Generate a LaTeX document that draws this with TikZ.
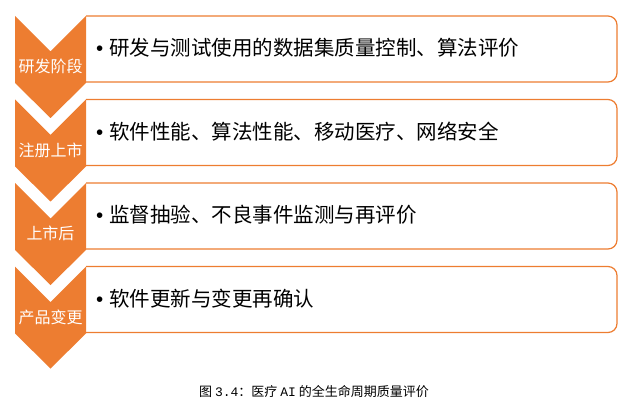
\documentclass[tikz,border=0pt]{standalone}
\usepackage{fontspec}
\newfontfamily\cjk{Noto Sans CJK SC}
\newfontfamily\capmono{Liberation Mono}
\newfontfamily\bulletfont{Liberation Sans}
\definecolor{stageorange}{HTML}{ED7D31}
\tikzset{
    stagetext/.style={font=\cjk\fontsize{16}{16}\selectfont, text=white, inner sep=0pt},
    desctext/.style={font=\cjk\fontsize{20.5}{21}\selectfont, anchor=west, inner sep=0pt},
    descbox/.style={draw=stageorange, line width=1.2pt, rounded corners=9pt}
}
\begin{document}
\begin{tikzpicture}[x=1pt, y=-1pt]
    \useasboundingbox (0,0) rectangle (629,406);

    % Stages: chevron on the left, rounded box on the right
    \foreach \i/\stage/\desc in {0/研发阶段/研发与测试使用的数据集质量控制、算法评价,
                                 1/注册上市/软件性能、算法性能、移动医疗、网络安全,
                                 2/上市后/监督抽验、不良事件监测与再评价,
                                 3/产品变更/软件更新与变更再确认} {
        \pgfmathsetmacro\rowtop{16+83.5*\i}
        \draw[descbox] (86,\rowtop) -- (617,\rowtop) -- (617,\rowtop+66) -- (86,\rowtop+66);
        \fill[stageorange] (15,\rowtop) -- (50.5,\rowtop+35.5) -- (86,\rowtop) -- (86,\rowtop+67)
            -- (50.5,\rowtop+102) -- (15,\rowtop+67) -- cycle;
        \node[stagetext] (stage\i) at (50.5,\rowtop+50.5) {\stage};
        \node[desctext] (desc\i) at (96,\rowtop+32) {{\bulletfont •}\hspace{6pt}\desc};
    }

    % Caption
    \node[font=\cjk\fontsize{13}{13}\selectfont] (caption) at (314,392)
        {图 {\capmono 3.4}：医疗 {\capmono AI} 的全生命周期质量评价};

\end{tikzpicture}
\end{document}
